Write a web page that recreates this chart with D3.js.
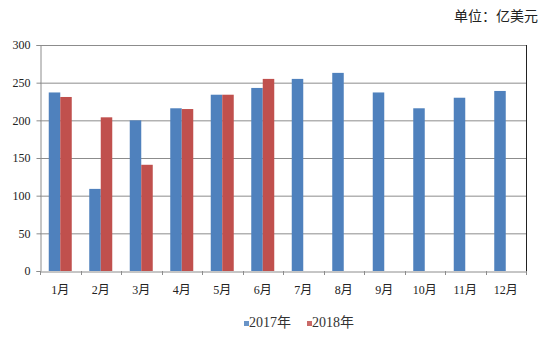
<!DOCTYPE html>
<html><head><meta charset="utf-8">
<script src="https://cdn.jsdelivr.net/npm/d3@7"></script>
<style>body{margin:0;background:#fff}svg{display:block}</style>
</head><body>
<svg id="c" width="554" height="338"></svg>
<script>
const months = ["1月","2月","3月","4月","5月","6月","7月","8月","9月","10月","11月","12月"];
const series2017 = [237,109,200,216,234,243,255,263,237,216,230,239];
const series2018 = [231,204,141,215,234,255,null,null,null,null,null,null];
const seriesNames = ["2017年","2018年"];
const colors = ["#4F81BD","#C0504D"];
const yTicks = [0,50,100,150,200,250,300];
const unitLabel = "单位：亿美元";

const svg = d3.select("#c");
const L=40,R=526,T=45,B=271;
const x = d3.scaleBand().domain(months).range([L,R]).paddingInner(0).paddingOuter(0);
const y = d3.scaleLinear().domain([0,300]).range([B,T]);
const serif = "'Liberation Serif','Times New Roman','Noto Sans CJK SC',serif";

// gridlines
svg.append("g").selectAll("line").data(yTicks.filter(d=>d>0)).join("line")
  .attr("x1",L).attr("x2",R).attr("y1",d=>y(d)+0.5).attr("y2",d=>y(d)+0.5)
  .attr("stroke","#8c8c8c").attr("stroke-width",1);
// right border
svg.append("line").attr("x1",R+0.5).attr("x2",R+0.5).attr("y1",T).attr("y2",B+4).attr("stroke","#222");

// bars
const sub = d3.scaleBand().domain([0,1]).range([0,23]);
const bw = 11.5;
const data = [];
months.forEach((m,i)=>{
  [series2017[i],series2018[i]].forEach((v,s)=>{ if(v!=null) data.push({m,s,v}); });
});
svg.append("g").selectAll("rect").data(data).join("rect")
  .attr("x",d=>x(d.m)+x.bandwidth()/2-11.5+sub(d.s))
  .attr("width",bw)
  .attr("y",d=>y(d.v)).attr("height",d=>B-y(d.v))
  .attr("fill",d=>colors[d.s]);

// y axis
const ya = svg.append("g").attr("transform",`translate(${L+0.5},0)`)
  .call(d3.axisLeft(y).tickValues(yTicks).tickSize(4).tickPadding(6));
ya.select(".domain").attr("stroke","#8c8c8c");
ya.selectAll(".tick line").attr("stroke","#8c8c8c");
ya.selectAll("text").attr("font-family",serif).attr("font-size",12).attr("fill","#222");

// x axis
const xa = svg.append("g").attr("transform",`translate(0,${B+0.5})`)
  .call(d3.axisBottom(x).tickSize(0).tickPadding(14));
xa.select(".domain").attr("stroke","#8c8c8c");
xa.selectAll("text").attr("font-family",serif).attr("font-size",12).attr("fill","#222");
// category boundary ticks
svg.append("g").selectAll("line").data(months.concat(["end"])).join("line")
  .attr("x1",(d,i)=>Math.round(L+i*x.bandwidth())+0.5).attr("x2",(d,i)=>Math.round(L+i*x.bandwidth())+0.5)
  .attr("y1",B).attr("y2",B+4).attr("stroke","#8c8c8c");

// legend
const leg = svg.append("g").attr("transform","translate(244,327)");
seriesNames.forEach((n,i)=>{
  const g = leg.append("g").attr("transform",`translate(${i*63},0)`);
  g.append("rect").attr("x",0).attr("y",-6).attr("width",5).attr("height",5).attr("fill",colors[i]).attr("opacity",0.85);
  g.append("text").attr("x",5).attr("y",0).attr("font-family",serif).attr("font-size",14).attr("fill","#333").text(n);
});

// unit label
svg.append("text").attr("x",538).attr("y",21).attr("text-anchor","end")
  .attr("font-family","'Noto Sans CJK SC',sans-serif").attr("font-size",14).attr("fill","#222").text(unitLabel);
</script>
</body></html>
